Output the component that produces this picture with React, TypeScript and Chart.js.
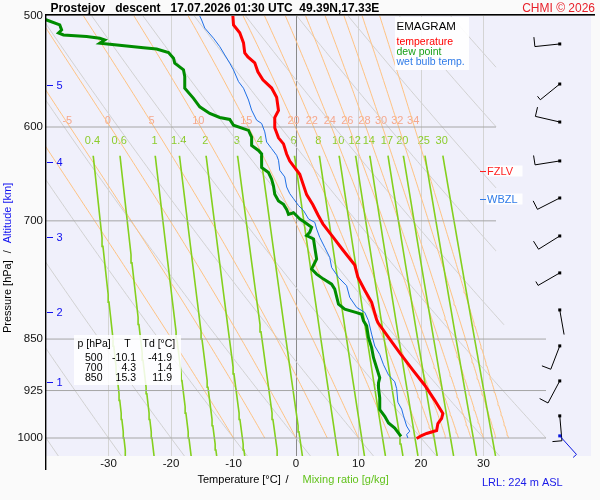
import React, { useEffect, useRef } from "react";
import { Chart, registerables } from "chart.js";

Chart.register(...registerables);

const FONT = '"Liberation Sans", Arial, Helvetica, sans-serif';

const TITLE = "Prostejov   descent   17.07.2026 01:30 UTC  49.39N,17.33E";
const COPYRIGHT = "CHMI \u00a9 2026";

// axes
const X_TICKS = [-30, -20, -10, 0, 10, 20, 30];
const P_TICKS = [500, 600, 700, 850, 925, 1000];
const P_LINES = [600, 700, 850, 925, 1000];
const P_LINE_TMAX = [32, 32, 40, 40, 40];

// temperature profile
const TEMP_P = [500, 507.4, 514, 522.6, 531.2, 534.7, 540, 548, 555.3, 562.8, 571.3, 583.9, 590.8, 600.8, 610.8, 616.9, 627.2, 634.5, 648.4, 670.5, 681.7, 693, 703.4, 718.6, 734.3, 752.7, 767.8, 784.5, 800.3, 823.2, 827.3, 845.2, 869.6, 894.5, 917, 940, 960.5, 968.4, 976.5, 987.8, 992.6, 996, 1000.8];
const TEMP_T = [-10.1, -10.0, -9.0, -8.4, -8.2, -7.7, -6.6, -6.1, -5.3, -3.9, -3.1, -2.8, -3.4, -3.4, -2.8, -2.0, -1.5, -1.0, 0.6, 1.7, 2.7, 3.5, 4.3, 5.9, 7.5, 9.4, 9.9, 11.0, 12.1, 12.9, 13.1, 14.6, 16.6, 18.7, 20.6, 22.2, 23.5, 23.3, 22.7, 22.5, 20.9, 20.1, 19.3];

// dew point profile
const DEW_P = [500, 503.3, 507.4, 511.6, 514.1, 515.8, 517.2, 518.6, 520, 522.9, 523.8, 526.7, 527.8, 531, 535.9, 540.3, 546.3, 552.3, 563, 572.4, 580.4, 586.8, 590.7, 592.6, 598.3, 603.3, 610, 618.5, 623.6, 627.1, 634.2, 641.3, 646.6, 653.7, 661.1, 670.1, 677.6, 681.3, 686.9, 692.6, 690.7, 694.1, 697.8, 701.7, 707.5, 713.3, 717.2, 721.2, 731.2, 745.3, 757.7, 764, 770.3, 776.7, 783.1, 802.7, 809.3, 813.8, 816, 825, 831.8, 848, 862.1, 876.5, 891.1, 905.9, 913.4, 920.9, 936.2, 954.3, 964.9, 975.6, 983.7, 991.9, 997.4];
const DEW_T = [-41.9, -39.9, -37.8, -37.5, -38.0, -37.2, -33.5, -31.4, -30.6, -31.4, -29.8, -24.4, -22.3, -20.4, -19.6, -19.4, -18.0, -17.8, -17.8, -16.4, -15.4, -13.8, -12.2, -10.6, -10.0, -7.6, -7.1, -7.1, -6.0, -5.5, -5.5, -5.5, -4.4, -3.9, -3.6, -3.4, -2.8, -2.0, -1.5, -1.2, -0.4, 0.1, 0.6, 1.4, 2.5, 2.2, 1.7, 2.8, 3.0, 3.3, 2.5, 3.3, 4.4, 5.7, 6.2, 6.8, 7.8, 9.7, 10.5, 10.8, 11.3, 11.6, 12.1, 12.4, 12.9, 13.4, 13.2, 13.2, 13.4, 13.4, 14.2, 14.8, 15.8, 16.4, 16.8];

// wet bulb profile
const WB_P = [500, 503.3, 510, 518.6, 525.8, 533, 540.3, 546.3, 556.9, 563, 574, 583.6, 593.3, 596.5, 604.8, 615, 621.7, 628.6, 633.7, 644.2, 651.3, 662.1, 669.4, 675, 682.6, 688.2, 697.8, 701.7, 709.4, 719.3, 731.2, 743.4, 755.7, 768.2, 778.7, 793.8, 806.9, 813.6, 824.8, 843.2, 859.8, 871.8, 886.6, 901.6, 911.8, 922, 943, 953.6, 964.3, 980.6, 988.9, 994.5, 1000];
const WB_T = [-15.4, -15.1, -14.6, -13.2, -12.2, -11.4, -10.6, -10.0, -9.2, -8.4, -7.6, -7.1, -6.3, -5.5, -5.0, -4.7, -3.9, -3.1, -2.8, -2.6, -1.8, -1.5, -1.0, -0.4, 0.4, 1.2, 2.0, 3.0, 3.3, 3.8, 4.6, 5.4, 5.7, 6.8, 8.1, 8.6, 9.7, 11.0, 11.6, 12.1, 12.6, 13.4, 14.0, 14.8, 15.8, 16.1, 16.3, 16.9, 17.2, 17.7, 18.2, 17.7, 17.9];

// background isopleths
const DRY_THETA = [-40, -30, -20, -10, 0, 10, 20, 30, 40, 50, 60, 70, 80, 90, 100];
const MOIST_THETA_W = [-10, -5, 0, 5, 10, 15, 20, 22, 24, 26, 28, 30, 32, 34];
const MOIST_LABELS = [-5, 0, 5, 10, 15, 20, 22, 24, 26, 28, 30, 32, 34];
const MIX_RATIOS = [0.4, 0.6, 1, 1.4, 2, 3, 4, 6, 8, 10, 12, 14, 17, 20, 25, 30];

// altitude marks
const ALT_KM = [1, 2, 3, 4, 5];
const ALT_P = [911.5, 812.5, 719.1, 635.1, 560];

// winds
const WIND_P = [523.5, 559.1, 595.1, 634.4, 674.2, 717.6, 762.5, 810.3, 859.6, 910.5, 964.3];
const WIND_DIR = [264, 231, 283, 261, 243, 238, 240, 170, 201, 208, 175];
const WIND_KT = [10, 5, 10, 10, 10, 10, 5, 2, 10, 10, 10];
const SFC_P = [996.5];
const SFC_DIR = [138];
const SFC_KT = [5];

// table
const TABLE_P = [500, 700, 850];
const TABLE_T = [-10.1, 4.3, 15.3];
const TABLE_TD = [-41.9, 1.4, 11.9];

const FZLV_P = 644.6;
const WBZL_P = 675.3;
const LRL_M = 224;

const P_MIN = 500;
const P_MAX = 1030;
const T_MIN = -40;
const T_MAX = 47.2;
const BARB_T = 42.2;

type Pt = { x: number; y: number };

function es(tc: number) {
  return 6.112 * Math.exp((17.67 * tc) / (tc + 243.5));
}
function dewFromMix(w: number, p: number) {
  const e = (w * p) / (622 + w);
  const l = Math.log(e / 6.112);
  return (243.5 * l) / (17.67 - l);
}
function moistLapse(p: number, tk: number) {
  const e = es(tk - 273.15);
  const rs = (0.622 * e) / (p - e);
  const Rd = 287.04, cp = 1005.7, L = 2.501e6, eps = 0.622;
  const num = (Rd * tk + L * rs) / p;
  const den = cp + (L * L * rs * eps) / (Rd * tk * tk);
  return num / den;
}
function moistLine(thw: number): Pt[] {
  let tk = thw + 273.15;
  let p = 1000;
  const pts: Pt[] = [{ x: thw, y: 1000 }];
  const dp = -1;
  let step = 0;
  while (p > P_MIN + 0.01) {
    const k1 = moistLapse(p, tk);
    const k2 = moistLapse(p + dp / 2, tk + (dp / 2) * k1);
    const k3 = moistLapse(p + dp / 2, tk + (dp / 2) * k2);
    const k4 = moistLapse(p + dp, tk + dp * k3);
    tk += (dp * (k1 + 2 * k2 + 2 * k3 + k4)) / 6;
    p += dp;
    step++;
    if (step % 4 === 0 || p <= P_MIN + 0.01) pts.push({ x: tk - 273.15, y: p });
  }
  return pts;
}
function dryLine(theta: number): Pt[] {
  const pts: Pt[] = [];
  for (let p = P_MAX; p >= P_MIN; p -= 5) {
    pts.push({ x: (theta + 273.15) * Math.pow(p / 1000, 0.2857) - 273.15, y: p });
  }
  return pts;
}
function mixLine(w: number): Pt[] {
  const pts: Pt[] = [];
  for (let p = P_MAX; p >= 629; p -= 10) pts.push({ x: dewFromMix(w, p), y: p });
  pts.push({ x: dewFromMix(w, 629), y: 629 });
  return pts;
}
function tLimit(p: number) {
  if (p <= 800) return 32;
  if (p >= 990) return 40;
  return 32 + (8 * (p - 800)) / 190;
}
function clipLine(pts: Pt[]): Pt[][] {
  const segs: Pt[][] = [];
  let cur: Pt[] = [];
  for (let i = 0; i < pts.length; i++) {
    const a = pts[i];
    const da = a.x - tLimit(a.y);
    if (da <= 0) {
      if (cur.length === 0 && i > 0) {
        const b = pts[i - 1];
        const db = b.x - tLimit(b.y);
        const f = da / (da - db);
        cur.push({ x: a.x + f * (b.x - a.x), y: a.y + f * (b.y - a.y) });
      }
      cur.push(a);
    } else {
      if (cur.length > 0) {
        const b = pts[i - 1];
        const db = b.x - tLimit(b.y);
        const f = db / (db - da);
        cur.push({ x: b.x + f * (a.x - b.x), y: b.y + f * (a.y - b.y) });
        segs.push(cur);
        cur = [];
      }
    }
  }
  if (cur.length > 1) segs.push(cur);
  return segs;
}
function interpT(pts: Pt[], p: number) {
  for (let i = 1; i < pts.length; i++) {
    const a = pts[i - 1], b = pts[i];
    if ((a.y - p) * (b.y - p) <= 0) {
      const f = (p - a.y) / (b.y - a.y || 1);
      return a.x + f * (b.x - a.x);
    }
  }
  return pts[pts.length - 1].x;
}

const zip = (P: number[], T: number[]) => P.map((p, i) => ({ x: T[i], y: p }));

function lineDs(data: Pt[], color: string, width: number, order: number) {
  return {
    type: "scatter" as const,
    data,
    showLine: true,
    borderColor: color,
    backgroundColor: color,
    borderWidth: width,
    pointRadius: 0,
    pointHoverRadius: 0,
    tension: 0,
    order,
  };
}

function drawBarb(ctx: CanvasRenderingContext2D, sx: number, sy: number, dir: number, kt: number, color: string) {
  const r = (dir * Math.PI) / 180;
  const ux = Math.sin(r), uy = -Math.cos(r);
  const px = -uy, py = ux;
  const L = 25;
  const ex = sx + ux * L, ey = sy + uy * L;
  ctx.strokeStyle = color;
  ctx.lineWidth = 1;
  ctx.beginPath();
  ctx.moveTo(sx, sy);
  ctx.lineTo(ex, ey);
  let rem = Math.round(kt / 5) * 5;
  let pos = 0;
  while (rem >= 10) {
    const bx = ex - ux * pos, by = ey - uy * pos;
    ctx.moveTo(bx, by);
    ctx.lineTo(bx + px * 9.5, by + py * 9.5);
    pos += 3.5;
    rem -= 10;
  }
  if (rem >= 5) {
    const bx = ex - ux * pos, by = ey - uy * pos;
    ctx.moveTo(bx, by);
    ctx.lineTo(bx + px * 4.5, by + py * 4.5);
  }
  ctx.stroke();
  ctx.fillStyle = color;
  ctx.fillRect(sx - 1.5, sy - 1.5, 3, 3);
}

export default function App() {
  const ref = useRef<HTMLCanvasElement>(null);

  useEffect(() => {
    const canvas = ref.current;
    if (!canvas) return;

    const moistPts = MOIST_THETA_W.map((t) => moistLine(t));
    const datasets: any[] = [];
    datasets.push(lineDs(zip(TEMP_P, TEMP_T), "#ff0000", 3, 0));
    datasets.push(lineDs(zip(DEW_P, DEW_T), "#008c00", 3, 1));
    datasets.push(lineDs(zip(WB_P, WB_T), "#1e6fe6", 1, 2));
    P_LINES.forEach((p, i) => {
      datasets.push(lineDs([{ x: T_MIN, y: p }, { x: P_LINE_TMAX[i], y: p }], "#a6a6a6", 1, 3));
    });
    MIX_RATIOS.forEach((w) => {
      clipLine(mixLine(w)).forEach((s) => datasets.push(lineDs(s, "#84d01e", 1.6, 4)));
    });
    moistPts.forEach((pts) => {
      clipLine(pts).forEach((s) => datasets.push(lineDs(s, "#ffc383", 1, 5)));
    });
    DRY_THETA.forEach((th) => {
      clipLine(dryLine(th)).forEach((s) => datasets.push(lineDs(s, "#d2d2d2", 1, 6)));
    });

    const overlay = {
      id: "overlay",
      beforeDraw(chart: any) {
        const { ctx, chartArea: a } = chart;
        ctx.save();
        ctx.fillStyle = "#fafafa";
        ctx.fillRect(0, 0, chart.width, chart.height);
        ctx.fillStyle = "#f0f0fb";
        ctx.fillRect(a.left, a.top, a.right - a.left, a.bottom - a.top);
        ctx.restore();
      },
      beforeDatasetsDraw(chart: any) {
        const ctx = chart.ctx as CanvasRenderingContext2D;
        const xs = chart.scales.x, ys = chart.scales.y;
        const X = (v: number) => xs.getPixelForValue(v);
        const Y = (v: number) => ys.getPixelForValue(v);
        ctx.save();
        ctx.font = `11px ${FONT}`;
        ctx.textAlign = "center";
        ctx.textBaseline = "middle";
        ctx.fillStyle = "#f5a88e";
        MOIST_LABELS.forEach((t) => {
          const idx = MOIST_THETA_W.indexOf(t);
          const tx = interpT(moistPts[idx], 596);
          ctx.fillText(String(t), X(tx), Y(594));
        });
        ctx.fillStyle = "#8ccc2c";
        MIX_RATIOS.forEach((w) => {
          ctx.fillText(String(w), X(dewFromMix(w, 622)), Y(614));
        });
        ctx.restore();
      },
      afterDraw(chart: any) {
        const ctx = chart.ctx as CanvasRenderingContext2D;
        const xs = chart.scales.x, ys = chart.scales.y;
        const a = chart.chartArea;
        const X = (v: number) => xs.getPixelForValue(v);
        const Y = (v: number) => ys.getPixelForValue(v);
        ctx.save();

        // title
        ctx.textBaseline = "alphabetic";
        ctx.textAlign = "left";
        ctx.fillStyle = "#000";
        ctx.font = `bold 12px ${FONT}`;
        ctx.fillText(TITLE, 50.5, 12);
        ctx.textAlign = "right";
        ctx.font = `12px ${FONT}`;
        ctx.fillStyle = "#e8202a";
        ctx.fillText(COPYRIGHT, 595, 12);
        ctx.fillStyle = "#000";
        ctx.fillRect(a.left - 1, 14, 595 - a.left + 1, 1.6);
        // left axis line
        ctx.fillRect(a.left - 1, 14, 1.4, 470 - 14);

        // altitude marks
        ctx.font = `11px ${FONT}`;
        ctx.textAlign = "left";
        ctx.textBaseline = "middle";
        ctx.fillStyle = "#1010f0";
        ctx.strokeStyle = "#1010f0";
        ctx.lineWidth = 1;
        ALT_KM.forEach((km, i) => {
          const y = Math.round(Y(ALT_P[i])) + 0.5;
          ctx.beginPath();
          ctx.moveTo(a.left + 1, y);
          ctx.lineTo(a.left + 7, y);
          ctx.stroke();
          ctx.fillText(String(km), a.left + 10.5, y);
        });

        // y title
        ctx.save();
        ctx.translate(8, 0);
        ctx.rotate(-Math.PI / 2);
        ctx.textBaseline = "middle";
        ctx.textAlign = "left";
        ctx.font = `11px ${FONT}`;
        ctx.fillStyle = "#000";
        const t1 = "Pressure [hPa]";
        const w1 = ctx.measureText(t1).width;
        const yBottom = 333;
        ctx.fillText(t1, -yBottom, 0);
        ctx.fillText("/", -yBottom + w1 + 7, 0);
        ctx.fillStyle = "#1010f0";
        ctx.fillText("Altitude [km]", -yBottom + w1 + 17, 0);
        ctx.restore();

        // x title
        ctx.font = `11px ${FONT}`;
        ctx.textBaseline = "middle";
        ctx.textAlign = "left";
        ctx.fillStyle = "#000";
        ctx.fillText("Temperature [\u00b0C]", 197.5, 479.5);
        ctx.fillText("/", 285.5, 479.5);
        ctx.fillStyle = "#62c21c";
        ctx.fillText("Mixing ratio [g/kg]", 302.5, 479.5);
        ctx.fillStyle = "#1a1ae8";
        ctx.fillText(`LRL: ${LRL_M} m ASL`, 482, 482.5);

        // legend box
        ctx.fillStyle = "rgba(255,255,255,0.9)";
        ctx.fillRect(395, 17, 74, 53);
        ctx.fillStyle = "#000";
        ctx.font = `11.5px ${FONT}`;
        ctx.fillText("EMAGRAM", 396.5, 26.5);
        ctx.font = `10.5px ${FONT}`;
        ctx.fillStyle = "#ff0000";
        ctx.fillText("temperature", 396.5, 42.5);
        ctx.fillStyle = "#18a018";
        ctx.fillText("dew point", 396.5, 52);
        ctx.fillStyle = "#2f7be8";
        ctx.fillText("wet bulb temp.", 396.5, 62);

        // freezing levels
        const lvl = (p: number, txt: string, col: string) => {
          const y = Math.round(Y(p)) + 0.5;
          ctx.fillStyle = "rgba(255,255,255,0.9)";
          ctx.fillRect(486.5, y - 6, 36, 11);
          ctx.strokeStyle = col;
          ctx.beginPath();
          ctx.moveTo(480, y);
          ctx.lineTo(486, y);
          ctx.stroke();
          ctx.fillStyle = col;
          ctx.font = `11px ${FONT}`;
          ctx.textAlign = "left";
          ctx.fillText(txt, 487, y);
        };
        lvl(FZLV_P, "FZLV", "#ff2020");
        lvl(WBZL_P, "WBZL", "#2f7be8");

        // table
        ctx.fillStyle = "rgba(255,255,255,0.85)";
        ctx.fillRect(74, 335, 107, 50);
        ctx.fillStyle = "#000";
        ctx.font = `10.5px ${FONT}`;
        ctx.textAlign = "left";
        ctx.fillText("p [hPa]", 77.5, 344);
        ctx.textAlign = "center";
        ctx.fillText("T", 127.5, 344);
        ctx.textAlign = "left";
        ctx.fillText("Td [\u00b0C]", 142.5, 344);
        ctx.textAlign = "right";
        TABLE_P.forEach((p, i) => {
          const y = 358.5 + i * 10;
          ctx.fillText(String(p), 102.5, y);
          ctx.fillText(TABLE_T[i].toFixed(1), 136, y);
          ctx.fillText(TABLE_TD[i].toFixed(1), 172, y);
        });

        // wind barbs
        const bx = X(BARB_T);
        WIND_P.forEach((p, i) => drawBarb(ctx, bx, Y(p), WIND_DIR[i], WIND_KT[i], "#000"));
        SFC_P.forEach((p, i) => drawBarb(ctx, bx, Y(p), SFC_DIR[i], SFC_KT[i], "#0a18e0"));

        ctx.restore();
      },
    };

    const chart = new Chart(canvas, {
      type: "scatter",
      data: { datasets },
      options: {
        animation: false,
        responsive: false,
        events: [],
        layout: { padding: { top: 16, right: 9, left: 0, bottom: 0 } },
        plugins: { legend: { display: false }, tooltip: { enabled: false }, title: { display: false } },
        scales: {
          x: {
            type: "linear",
            min: T_MIN,
            max: T_MAX,
            afterBuildTicks: (s: any) => {
              s.ticks = X_TICKS.map((v) => ({ value: v }));
            },
            afterFit: (s: any) => {
              s.height = 44;
            },
            ticks: { callback: (v: any) => String(v), color: "#111", font: { size: 11.5, family: FONT }, padding: 1, maxRotation: 0, autoSkip: false },
            grid: {
              drawTicks: false,
              lineWidth: 1,
              color: (c: any) => (c.tick && c.tick.value === 0 ? "#8a8a8a" : "#d4d4d4"),
            },
            border: { display: false },
          },
          y: {
            type: "logarithmic",
            reverse: true,
            min: P_MIN,
            max: P_MAX,
            afterBuildTicks: (s: any) => {
              s.ticks = P_TICKS.map((v) => ({ value: v }));
            },
            afterFit: (s: any) => {
              s.width = 46;
            },
            ticks: { callback: (v: any) => String(v), color: "#111", font: { size: 11.5, family: FONT }, padding: 3, autoSkip: false },
            grid: { display: false, drawTicks: false },
            border: { display: false },
          },
        },
      },
      plugins: [overlay],
    } as any);

    return () => chart.destroy();
  }, []);

  return (
    <div style={{ position: "fixed", left: 0, top: 0, width: 600, height: 500, background: "#fafafa" }}>
      <canvas ref={ref} width={600} height={500} style={{ display: "block", width: 600, height: 500 }} />
    </div>
  );
}
